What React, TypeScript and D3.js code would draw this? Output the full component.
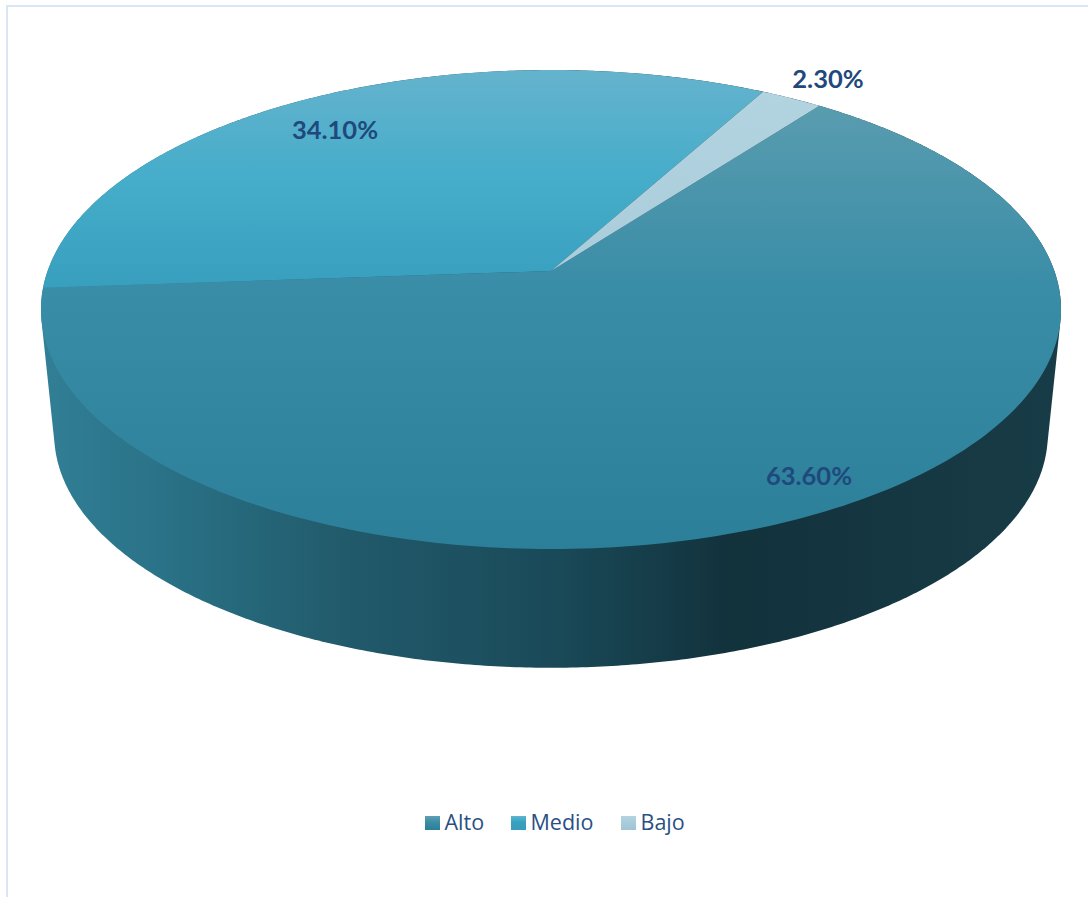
import React from "react";
import * as d3 from "d3";

// Share of respondents per level
const categories = ["Alto", "Medio", "Bajo"];
const shares = [63.6, 34.1, 2.3];
const shareLabels = ["63.60%", "34.10%", "2.30%"];

const WIDTH = 1088;
const HEIGHT = 897;
const FIRST_SLICE_DEG = 37;
const PIVOT = { x: 551, y: 271 };
const TILT = 0.1607;
const RADIUS_X = 503.4;
const RADIUS_Y = 233.3;
const RIM_DROP = 126;
const RIM_SCALE = 0.974;

const LABEL_POS: [number, number][] = [
  [809, 485],
  [335, 139],
  [828, 88],
];

const GRADIENTS = [
  [
    ["0%", "#5f9fb1"],
    ["45%", "#3a8da7"],
    ["100%", "#2b7f98"],
  ],
  [
    ["0%", "#65b3cd"],
    ["22%", "#46adca"],
    ["45%", "#389fbf"],
    ["100%", "#389dbd"],
  ],
  [
    ["0%", "#b3d4e1"],
    ["100%", "#9fc4d3"],
  ],
];

const WALL_STOPS = [
  ["0%", "#317f96"],
  ["12%", "#2a7287"],
  ["30%", "#215a6b"],
  ["50%", "#1a4a59"],
  ["68%", "#12323c"],
  ["100%", "#183c47"],
];

// Perspective view of a flat disc, with the disc centre staying at the pivot.
const project = (angle: number, scale = 1, drop = 0): [number, number] => {
  const u = Math.sin(angle);
  const v = -Math.cos(angle);
  const w = 1 - TILT * v;
  return [
    PIVOT.x + (scale * RADIUS_X * u) / w,
    PIVOT.y + drop + (scale * RADIUS_Y * v) / w,
  ];
};

const pie = d3
  .pie<number>()
  .sort(null)
  .startAngle((FIRST_SLICE_DEG * Math.PI) / 180)
  .endAngle(((FIRST_SLICE_DEG + 360) * Math.PI) / 180);

const closedLine = d3.line().curve(d3.curveLinearClosed);

const slicePath = (start: number, end: number) => {
  const steps = Math.max(8, Math.ceil(((end - start) * 180) / Math.PI));
  const angle = d3.scaleLinear().domain([0, steps]).range([start, end]);
  const rim = d3.range(steps + 1).map((i) => project(angle(i)));
  return closedLine([[PIVOT.x, PIVOT.y], ...rim]) as string;
};

const ringAngles = d3.range(0, 720).map((i) => (i * Math.PI) / 360);
const wallOutline = d3.polygonHull([
  ...ringAngles.map((a) => project(a)),
  ...ringAngles.map((a) => project(a, RIM_SCALE, RIM_DROP)),
]) as [number, number][];

export default function App() {
  const slices = pie(shares);
  const legendX = [425, 511, 621];
  return (
    <svg
      width={WIDTH}
      height={HEIGHT}
      viewBox={`0 0 ${WIDTH} ${HEIGHT}`}
      style={{ position: "absolute", left: 0, top: 0, background: "#fff" }}
    >
      <defs>
        {GRADIENTS.map((stops, i) => (
          <linearGradient key={i} id={`face-${i}`} x1="0" y1="70" x2="0" y2="549" gradientUnits="userSpaceOnUse">
            {stops.map(([o, c]) => (
              <stop key={o} offset={o} stopColor={c} />
            ))}
          </linearGradient>
        ))}
        {GRADIENTS.map((stops, i) => (
          <linearGradient key={i} id={`swatch-${i}`} x1="0" y1="0" x2="0" y2="1">
            {stops.map(([o, c]) => (
              <stop key={o} offset={o} stopColor={c} />
            ))}
          </linearGradient>
        ))}
        <linearGradient id="wall" x1="40" y1="0" x2="1060" y2="0" gradientUnits="userSpaceOnUse">
          {WALL_STOPS.map(([o, c]) => (
            <stop key={o} offset={o} stopColor={c} />
          ))}
        </linearGradient>
      </defs>

      <path d="M7 897V6H1088" fill="none" stroke="#dae6f5" strokeWidth={2} />

      <path d={closedLine(wallOutline) as string} fill="url(#wall)" />
      {slices.map((s, i) => (
        <path key={categories[i]} d={slicePath(s.startAngle, s.endAngle)} fill={`url(#face-${i})`} />
      ))}

      {slices.map((s, i) => (
        <text
          key={categories[i]}
          x={LABEL_POS[i][0]}
          y={LABEL_POS[i][1]}
          textAnchor="middle"
          fontFamily="Lato, sans-serif"
          fontWeight={700}
          fontSize={25.5}
          fill="#1f497d"
        >
          {shareLabels[i]}
        </text>
      ))}

      {categories.map((name, i) => (
        <g key={name}>
          <rect x={legendX[i]} y={816} width={15} height={14} fill={`url(#swatch-${i})`} />
          <text
            x={legendX[i] + 19.5}
            y={830}
            fontFamily="'Open Sans', sans-serif"
            fontSize={21.5}
            fill="#2a5082"
          >
            {name}
          </text>
        </g>
      ))}
    </svg>
  );
}
